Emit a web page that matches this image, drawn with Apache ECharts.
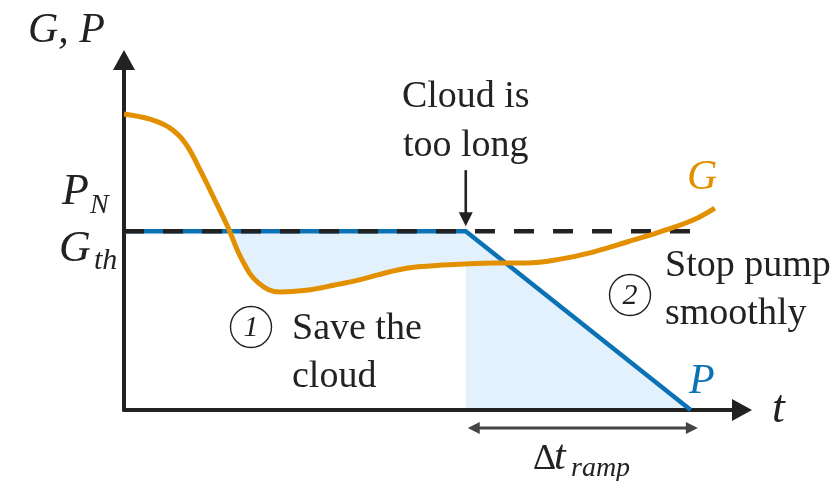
<!DOCTYPE html>
<html>
<head>
<meta charset="utf-8">
<script src="https://cdn.jsdelivr.net/npm/echarts@6/dist/echarts.min.js"></script>
<style>
  html, body { margin: 0; padding: 0; background: #fff; }
  #chart { width: 840px; height: 481px; }
</style>
</head>
<body>
<div id="chart"></div>
<script>
// G curve (irradiance)
const gTime = [0, 4.2, 7.4, 9.9, 12.3, 14.7, 16.8, 19.1, 21.7, 25.2, 29.5, 34.1, 37.9, 41.1, 44.3, 47.6, 51.5, 55.3, 59.7, 65.2, 70.6, 75.9, 81.4, 86.7, 92.1, 95.6]
const gValue = [84.6, 83.1, 80.6, 76.3, 68.6, 60.0, 52.3, 42.9, 36.4, 33.7, 34.2, 35.7, 37.1, 38.6, 40.0, 40.9, 41.4, 41.7, 42.0, 42.0, 43.1, 45.1, 48.0, 50.9, 54.3, 57.7]
// P (pump power): flat at P_N, then ramp down
const pTime = [0, 55.3, 91.7]
const pValue = [51.1, 51.1, 0]
// dashed threshold line G_th
const thTime = [0, 92.7]
const thValue = [51.1, 51.1]

const serif = "'Liberation Serif', 'DejaVu Serif', serif"
const ink = '#222'
const orange = '#e39000'
const blue = '#0b72b5'
const shade = '#e3f1fc'

const zip = (a, b) => a.map((v, i) => [v, b[i]])
const rampStart = pTime[1]
const gMask = zip(gTime, gValue).filter(d => d[0] <= rampStart)

const chart = echarts.init(document.getElementById('chart'))

const axisBase = {
  type: 'value',
  min: 0,
  max: 100,
  z: 3,
  axisLine: {
    show: true,
    symbol: ['none', 'triangle'],
    symbolSize: [22, 20],
    lineStyle: { color: ink, width: 4 }
  },
  axisTick: { show: false },
  axisLabel: { show: false },
  splitLine: { show: false }
}

chart.setOption({
  animation: false,
  grid: { left: 124, right: 98, top: 60, bottom: 71 },
  xAxis: axisBase,
  yAxis: axisBase,
  series: [
    {
      // shaded area under P
      type: 'line',
      z: 1,
      data: zip(pTime, pValue),
      showSymbol: false,
      lineStyle: { opacity: 0 },
      areaStyle: { color: shade, opacity: 1 }
    },
    {
      // white mask under G before the ramp
      type: 'line',
      z: 1,
      smooth: 0.4,
      data: gMask,
      showSymbol: false,
      lineStyle: { opacity: 0 },
      areaStyle: { color: '#fff', opacity: 1 }
    },
    {
      type: 'line',
      z: 4,
      data: zip(pTime, pValue),
      showSymbol: false,
      lineStyle: { color: blue, width: 4.5 }
    },
    {
      type: 'line',
      z: 5,
      data: zip(thTime, thValue),
      showSymbol: false,
      lineStyle: { color: ink, width: 4.5, type: [20, 19] }
    },
    {
      type: 'line',
      z: 6,
      smooth: 0.4,
      data: zip(gTime, gValue),
      showSymbol: false,
      lineStyle: { color: orange, width: 5 }
    }
  ]
})

// annotations
const toPx = p => chart.convertToPixel({ gridIndex: 0 }, p)

function txt (s, x, y, size, opts) {
  opts = opts || {}
  return {
    type: 'text',
    z: 20,
    style: {
      text: s,
      x: x,
      y: y,
      fontSize: size,
      fontFamily: serif,
      fontStyle: opts.italic ? 'italic' : 'normal',
      fill: opts.color || ink,
      align: opts.align || 'left',
      textAlign: opts.align || 'left',
      verticalAlign: 'middle',
      textVerticalAlign: 'middle'
    }
  }
}

function circled (n, cx, cy) {
  return [
    { type: 'circle', z: 20, shape: { cx: cx, cy: cy, r: 20.5 }, style: { fill: 'none', stroke: ink, lineWidth: 1.4 } },
    txt(n, cx, cy + 1, 30, { italic: true, align: 'center' })
  ]
}

const cloud = toPx([rampStart, pValue[1]])
const rampL = toPx([rampStart, 0])
const rampR = toPx([thTime[1], 0])
const tipY = cloud[1] - 5
const arrY = rampL[1] + 18

const graphic = [
  txt('G, P', 28, 31, 42, { italic: true }),
  txt('P', 62, 192, 44, { italic: true }),
  txt('N', 90, 206, 28, { italic: true }),
  txt('G', 59, 249, 44, { italic: true }),
  txt('th', 94, 261, 30, { italic: true }),
  txt('Cloud is', cloud[0], 97, 38, { align: 'center' }),
  txt('too long', cloud[0], 146, 38, { align: 'center' }),
  txt('G', 687, 178, 42, { italic: true, color: orange }),
  txt('P', 689, 382, 42, { italic: true, color: blue }),
  txt('t', 772, 410, 46, { italic: true }),
  txt('Stop pump', 665, 266, 38),
  txt('smoothly', 665, 314, 38),
  txt('Save the', 292, 329, 38),
  txt('cloud', 292, 377, 38),
  txt('\u0394', 533, 460, 36),
  txt('t', 554, 458, 42, { italic: true }),
  txt('ramp', 571, 469, 28, { italic: true }),
  // cloud arrow
  { type: 'line', z: 20, shape: { x1: cloud[0], y1: tipY - 56, x2: cloud[0], y2: tipY - 10 }, style: { stroke: ink, lineWidth: 2.6 } },
  { type: 'polygon', z: 20, shape: { points: [[cloud[0] - 7, tipY - 14], [cloud[0] + 7, tipY - 14], [cloud[0], tipY]] }, style: { fill: ink } },
  // ramp duration arrow
  { type: 'line', z: 20, shape: { x1: rampL[0] + 8, y1: arrY, x2: rampR[0] - 8, y2: arrY }, style: { stroke: '#444', lineWidth: 3 } },
  { type: 'polygon', z: 20, shape: { points: [[rampL[0] + 2, arrY], [rampL[0] + 14, arrY - 6], [rampL[0] + 14, arrY + 6]] }, style: { fill: '#444' } },
  { type: 'polygon', z: 20, shape: { points: [[rampR[0] + 1, arrY], [rampR[0] - 11, arrY - 6], [rampR[0] - 11, arrY + 6]] }, style: { fill: '#444' } }
].concat(circled('1', 251, 327), circled('2', 630, 295))

chart.setOption({ graphic: graphic })
</script>
</body>
</html>
